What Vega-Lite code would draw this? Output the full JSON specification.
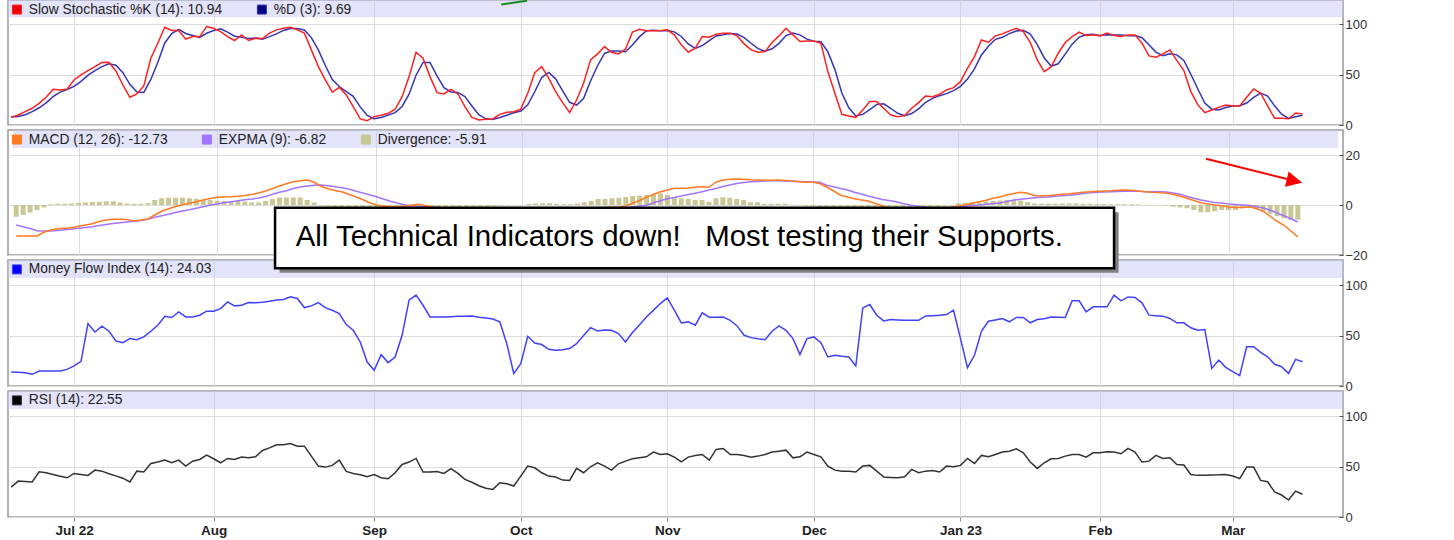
{
"$schema":"https://vega.github.io/schema/vega-lite/v6.json",
"padding":{"left":7,"top":-2,"right":0,"bottom":0},
"background":"white",
"spacing":5,
"bounds":"flush",
"config":{"font":"Liberation Sans","view":{"stroke":"#9a9a9a","strokeWidth":1.5},"axis":{"gridColor":"#dddddd","gridWidth":1}},
"resolve":{"scale":{"x":"independent","y":"independent","color":"independent"},"legend":{"color":"independent"}},
"datasets":{"ind":[
{"t":0,"date":"2022-06-17","pk":7.6,"pd":8.0,"macd":-12.4,"sig":-8.0,"div":-4.7,"mfi":13.9,"rsi":29.7},
{"t":1,"date":"2022-06-21","pk":9.9,"pd":8.5,"macd":-12.4,"sig":-8.7,"div":-4.0,"mfi":13.6,"rsi":35.6},
{"t":2,"date":"2022-06-22","pk":13.2,"pd":10.2,"macd":-12.4,"sig":-9.4,"div":-3.0,"mfi":13.2,"rsi":35.2},
{"t":3,"date":"2022-06-23","pk":16.6,"pd":13.2,"macd":-12.4,"sig":-10.3,"div":-2.0,"mfi":11.6,"rsi":34.7},
{"t":4,"date":"2022-06-24","pk":21.5,"pd":17.1,"macd":-10.9,"sig":-10.4,"div":-1.0,"mfi":14.9,"rsi":44.9},
{"t":5,"date":"2022-06-27","pk":27.5,"pd":21.9,"macd":-10.0,"sig":-10.4,"div":0.3,"mfi":14.9,"rsi":43.9},
{"t":6,"date":"2022-06-28","pk":35.4,"pd":28.1,"macd":-9.5,"sig":-10.2,"div":0.5,"mfi":14.9,"rsi":42.2},
{"t":7,"date":"2022-06-29","pk":34.8,"pd":32.6,"macd":-9.3,"sig":-9.9,"div":0.5,"mfi":14.9,"rsi":40.5},
{"t":8,"date":"2022-06-30","pk":35.4,"pd":35.2,"macd":-9.1,"sig":-9.6,"div":0.6,"mfi":16.5,"rsi":38.9},
{"t":9,"date":"2022-07-01","pk":44.7,"pd":38.3,"macd":-8.5,"sig":-9.3,"div":0.8,"mfi":20.0,"rsi":43.2},
{"t":10,"date":"2022-07-05","pk":49.7,"pd":43.3,"macd":-8.0,"sig":-9.0,"div":1.0,"mfi":24.5,"rsi":42.2},
{"t":11,"date":"2022-07-06","pk":54.0,"pd":49.5,"macd":-7.5,"sig":-8.7,"div":1.2,"mfi":61.9,"rsi":41.3},
{"t":12,"date":"2022-07-07","pk":57.9,"pd":53.9,"macd":-6.6,"sig":-8.2,"div":1.3,"mfi":53.6,"rsi":46.5},
{"t":13,"date":"2022-07-08","pk":61.9,"pd":57.9,"macd":-6.0,"sig":-7.8,"div":1.5,"mfi":59.3,"rsi":45.5},
{"t":14,"date":"2022-07-11","pk":62.3,"pd":60.7,"macd":-5.7,"sig":-7.4,"div":1.5,"mfi":54.3,"rsi":42.9},
{"t":15,"date":"2022-07-12","pk":53.6,"pd":59.3,"macd":-5.7,"sig":-7.1,"div":1.0,"mfi":44.7,"rsi":40.8},
{"t":16,"date":"2022-07-13","pk":39.7,"pd":51.9,"macd":-5.8,"sig":-6.8,"div":0.6,"mfi":43.0,"rsi":38.5},
{"t":17,"date":"2022-07-14","pk":27.5,"pd":40.3,"macd":-6.4,"sig":-6.5,"div":0.4,"mfi":47.0,"rsi":34.7},
{"t":18,"date":"2022-07-15","pk":30.8,"pd":32.7,"macd":-6.0,"sig":-6.2,"div":0.5,"mfi":46.0,"rsi":45.5},
{"t":19,"date":"2022-07-18","pk":38.7,"pd":32.3,"macd":-5.6,"sig":-5.7,"div":0.7,"mfi":48.7,"rsi":44.6},
{"t":20,"date":"2022-07-19","pk":66.2,"pd":45.2,"macd":-4.0,"sig":-4.9,"div":2.0,"mfi":54.3,"rsi":53.1},
{"t":21,"date":"2022-07-20","pk":81.1,"pd":62.0,"macd":-2.5,"sig":-4.3,"div":2.7,"mfi":60.3,"rsi":54.5},
{"t":22,"date":"2022-07-21","pk":97.0,"pd":81.4,"macd":-1.5,"sig":-3.7,"div":2.9,"mfi":69.2,"rsi":56.4},
{"t":23,"date":"2022-07-22","pk":93.7,"pd":90.6,"macd":-0.6,"sig":-3.0,"div":2.9,"mfi":67.9,"rsi":53.8},
{"t":24,"date":"2022-07-25","pk":93.7,"pd":94.8,"macd":0.1,"sig":-2.4,"div":2.9,"mfi":73.5,"rsi":56.4},
{"t":25,"date":"2022-07-26","pk":85.1,"pd":90.8,"macd":0.7,"sig":-1.9,"div":2.7,"mfi":68.5,"rsi":50.5},
{"t":26,"date":"2022-07-27","pk":87.7,"pd":88.8,"macd":1.3,"sig":-1.3,"div":2.5,"mfi":68.5,"rsi":55.4},
{"t":27,"date":"2022-07-28","pk":87.7,"pd":86.8,"macd":2.0,"sig":-0.7,"div":2.0,"mfi":70.2,"rsi":57.1},
{"t":28,"date":"2022-07-29","pk":97.7,"pd":91.0,"macd":2.6,"sig":-0.1,"div":2.0,"mfi":74.2,"rsi":61.4},
{"t":29,"date":"2022-08-01","pk":96.0,"pd":93.8,"macd":3.1,"sig":0.4,"div":1.7,"mfi":74.2,"rsi":57.8},
{"t":30,"date":"2022-08-02","pk":92.7,"pd":95.5,"macd":3.2,"sig":0.9,"div":1.6,"mfi":76.8,"rsi":53.8},
{"t":31,"date":"2022-08-03","pk":87.7,"pd":92.1,"macd":3.3,"sig":1.3,"div":1.6,"mfi":83.4,"rsi":58.1},
{"t":32,"date":"2022-08-04","pk":83.8,"pd":88.1,"macd":3.5,"sig":1.7,"div":1.6,"mfi":79.5,"rsi":57.1},
{"t":33,"date":"2022-08-05","pk":89.4,"pd":87.0,"macd":3.8,"sig":2.1,"div":1.4,"mfi":80.1,"rsi":59.4},
{"t":34,"date":"2022-08-08","pk":83.8,"pd":85.7,"macd":4.2,"sig":2.4,"div":1.0,"mfi":82.8,"rsi":58.7},
{"t":35,"date":"2022-08-09","pk":86.1,"pd":86.4,"macd":4.8,"sig":2.8,"div":1.0,"mfi":82.6,"rsi":59.7},
{"t":36,"date":"2022-08-10","pk":85.8,"pd":85.2,"macd":5.6,"sig":3.4,"div":1.6,"mfi":83.0,"rsi":66.0},
{"t":37,"date":"2022-08-11","pk":91.1,"pd":87.7,"macd":6.6,"sig":4.3,"div":2.4,"mfi":84.0,"rsi":68.6},
{"t":38,"date":"2022-08-12","pk":94.4,"pd":90.4,"macd":7.6,"sig":5.1,"div":3.0,"mfi":85.4,"rsi":71.6},
{"t":39,"date":"2022-08-15","pk":96.0,"pd":93.8,"macd":8.5,"sig":5.7,"div":3.0,"mfi":85.8,"rsi":71.6},
{"t":40,"date":"2022-08-16","pk":97.0,"pd":95.8,"macd":9.3,"sig":6.6,"div":3.0,"mfi":88.4,"rsi":72.9},
{"t":41,"date":"2022-08-17","pk":94.4,"pd":95.8,"macd":9.7,"sig":7.2,"div":3.0,"mfi":86.8,"rsi":70.3},
{"t":42,"date":"2022-08-18","pk":91.1,"pd":94.2,"macd":10.0,"sig":7.6,"div":2.0,"mfi":77.8,"rsi":70.3},
{"t":43,"date":"2022-08-19","pk":74.5,"pd":86.7,"macd":9.1,"sig":7.9,"div":1.0,"mfi":79.5,"rsi":60.4},
{"t":44,"date":"2022-08-22","pk":57.9,"pd":74.5,"macd":7.5,"sig":8.0,"div":-0.3,"mfi":82.8,"rsi":50.5},
{"t":45,"date":"2022-08-23","pk":44.7,"pd":59.0,"macd":6.5,"sig":7.7,"div":-0.6,"mfi":77.8,"rsi":49.5},
{"t":46,"date":"2022-08-24","pk":32.5,"pd":45.0,"macd":5.8,"sig":7.3,"div":-1.0,"mfi":75.2,"rsi":51.2},
{"t":47,"date":"2022-08-25","pk":37.4,"pd":38.2,"macd":5.3,"sig":6.9,"div":-1.3,"mfi":71.9,"rsi":56.4},
{"t":48,"date":"2022-08-26","pk":29.8,"pd":33.2,"macd":4.3,"sig":6.4,"div":-1.6,"mfi":60.9,"rsi":45.2},
{"t":49,"date":"2022-08-29","pk":18.2,"pd":28.5,"macd":3.3,"sig":5.6,"div":-1.9,"mfi":55.3,"rsi":43.2},
{"t":50,"date":"2022-08-30","pk":6.0,"pd":18.0,"macd":2.2,"sig":4.8,"div":-2.1,"mfi":43.7,"rsi":42.0},
{"t":51,"date":"2022-08-31","pk":4.3,"pd":9.5,"macd":0.9,"sig":4.1,"div":-2.3,"mfi":23.8,"rsi":39.9},
{"t":52,"date":"2022-09-01","pk":8.3,"pd":6.2,"macd":0.0,"sig":3.3,"div":-2.3,"mfi":15.6,"rsi":42.2},
{"t":53,"date":"2022-09-02","pk":9.6,"pd":7.4,"macd":-0.4,"sig":2.4,"div":-2.2,"mfi":31.1,"rsi":38.9},
{"t":54,"date":"2022-09-06","pk":11.6,"pd":9.8,"macd":-0.6,"sig":1.5,"div":-2.0,"mfi":23.2,"rsi":38.0},
{"t":55,"date":"2022-09-07","pk":15.6,"pd":12.3,"macd":-0.7,"sig":0.8,"div":-1.6,"mfi":28.8,"rsi":43.9},
{"t":56,"date":"2022-09-08","pk":28.1,"pd":18.4,"macd":-0.5,"sig":0.1,"div":-1.2,"mfi":50.3,"rsi":52.1},
{"t":57,"date":"2022-09-09","pk":48.0,"pd":30.6,"macd":-0.1,"sig":-0.3,"div":-0.8,"mfi":85.1,"rsi":54.5},
{"t":58,"date":"2022-09-12","pk":72.2,"pd":49.4,"macd":0.3,"sig":-0.5,"div":-0.5,"mfi":90.1,"rsi":58.1},
{"t":59,"date":"2022-09-13","pk":66.2,"pd":62.1,"macd":-0.2,"sig":-0.6,"div":-0.4,"mfi":80.1,"rsi":44.6},
{"t":60,"date":"2022-09-14","pk":48.0,"pd":62.1,"macd":-0.8,"sig":-0.8,"div":-0.6,"mfi":68.5,"rsi":44.6},
{"t":61,"date":"2022-09-15","pk":32.1,"pd":48.8,"macd":-1.5,"sig":-1.0,"div":-0.9,"mfi":68.5,"rsi":45.2},
{"t":62,"date":"2022-09-16","pk":30.8,"pd":37.0,"macd":-2.3,"sig":-1.3,"div":-1.1,"mfi":68.5,"rsi":43.2},
{"t":63,"date":"2022-09-19","pk":35.4,"pd":32.8,"macd":-3.0,"sig":-1.6,"div":-1.2,"mfi":68.8,"rsi":47.9},
{"t":64,"date":"2022-09-20","pk":30.8,"pd":32.3,"macd":-3.6,"sig":-2.0,"div":-1.2,"mfi":69.2,"rsi":43.2},
{"t":65,"date":"2022-09-21","pk":18.2,"pd":28.1,"macd":-4.2,"sig":-2.4,"div":-1.1,"mfi":69.3,"rsi":37.3},
{"t":66,"date":"2022-09-22","pk":7.6,"pd":18.9,"macd":-4.8,"sig":-2.8,"div":-1.0,"mfi":69.5,"rsi":34.5},
{"t":67,"date":"2022-09-23","pk":5.0,"pd":10.3,"macd":-5.3,"sig":-3.2,"div":-0.9,"mfi":68.2,"rsi":31.0},
{"t":68,"date":"2022-09-26","pk":5.6,"pd":6.1,"macd":-5.8,"sig":-3.6,"div":-0.8,"mfi":67.4,"rsi":28.5},
{"t":69,"date":"2022-09-27","pk":6.0,"pd":5.5,"macd":-6.0,"sig":-3.9,"div":-0.6,"mfi":66.5,"rsi":27.4},
{"t":70,"date":"2022-09-28","pk":10.6,"pd":7.4,"macd":-6.0,"sig":-4.2,"div":-0.4,"mfi":63.6,"rsi":34.0},
{"t":71,"date":"2022-09-29","pk":12.6,"pd":9.7,"macd":-5.8,"sig":-4.4,"div":-0.2,"mfi":42.0,"rsi":33.0},
{"t":72,"date":"2022-09-30","pk":13.2,"pd":12.1,"macd":-5.5,"sig":-4.6,"div":-0.1,"mfi":12.3,"rsi":30.7},
{"t":73,"date":"2022-10-03","pk":15.6,"pd":13.8,"macd":-5.2,"sig":-4.7,"div":0.1,"mfi":22.2,"rsi":40.5},
{"t":74,"date":"2022-10-04","pk":31.5,"pd":20.1,"macd":-4.6,"sig":-4.7,"div":0.4,"mfi":49.3,"rsi":50.5},
{"t":75,"date":"2022-10-05","pk":52.0,"pd":33.0,"macd":-3.8,"sig":-4.6,"div":0.6,"mfi":42.7,"rsi":48.8},
{"t":76,"date":"2022-10-06","pk":57.9,"pd":47.1,"macd":-3.2,"sig":-4.4,"div":0.7,"mfi":41.1,"rsi":43.9},
{"t":77,"date":"2022-10-07","pk":46.4,"pd":52.1,"macd":-3.0,"sig":-4.2,"div":0.7,"mfi":36.4,"rsi":40.6},
{"t":78,"date":"2022-10-10","pk":33.1,"pd":45.8,"macd":-3.0,"sig":-4.0,"div":0.5,"mfi":35.4,"rsi":39.6},
{"t":79,"date":"2022-10-11","pk":22.2,"pd":33.9,"macd":-3.1,"sig":-3.8,"div":0.3,"mfi":36.0,"rsi":36.6},
{"t":80,"date":"2022-10-12","pk":12.3,"pd":22.5,"macd":-3.2,"sig":-3.7,"div":0.3,"mfi":37.1,"rsi":36.3},
{"t":81,"date":"2022-10-13","pk":24.8,"pd":19.8,"macd":-2.9,"sig":-3.5,"div":0.6,"mfi":42.0,"rsi":48.2},
{"t":82,"date":"2022-10-14","pk":41.4,"pd":26.2,"macd":-2.4,"sig":-3.3,"div":1.1,"mfi":50.0,"rsi":43.9},
{"t":83,"date":"2022-10-17","pk":64.6,"pd":43.6,"macd":-1.8,"sig":-3.0,"div":1.6,"mfi":57.9,"rsi":49.8},
{"t":84,"date":"2022-10-18","pk":70.5,"pd":58.8,"macd":-1.4,"sig":-2.7,"div":2.4,"mfi":54.6,"rsi":53.8},
{"t":85,"date":"2022-10-19","pk":77.8,"pd":71.0,"macd":-1.0,"sig":-2.4,"div":2.4,"mfi":55.6,"rsi":50.5},
{"t":86,"date":"2022-10-20","pk":72.2,"pd":73.5,"macd":-0.9,"sig":-2.0,"div":2.7,"mfi":55.3,"rsi":46.5},
{"t":87,"date":"2022-10-21","pk":70.5,"pd":73.5,"macd":-0.8,"sig":-1.6,"div":2.9,"mfi":52.0,"rsi":52.8},
{"t":88,"date":"2022-10-24","pk":75.2,"pd":72.6,"macd":-0.4,"sig":-1.2,"div":3.2,"mfi":43.7,"rsi":55.4},
{"t":89,"date":"2022-10-25","pk":92.1,"pd":79.3,"macd":0.8,"sig":-0.8,"div":3.6,"mfi":53.0,"rsi":57.8},
{"t":90,"date":"2022-10-26","pk":95.0,"pd":87.4,"macd":1.8,"sig":-0.4,"div":3.7,"mfi":60.5,"rsi":58.7},
{"t":91,"date":"2022-10-27","pk":93.4,"pd":93.5,"macd":3.1,"sig":-0.1,"div":4.0,"mfi":68.5,"rsi":59.7},
{"t":92,"date":"2022-10-28","pk":93.4,"pd":93.9,"macd":4.3,"sig":0.9,"div":4.4,"mfi":75.0,"rsi":64.4},
{"t":93,"date":"2022-10-31","pk":93.4,"pd":93.4,"macd":5.3,"sig":1.7,"div":4.7,"mfi":81.8,"rsi":62.0},
{"t":94,"date":"2022-11-01","pk":94.4,"pd":93.7,"macd":6.0,"sig":2.5,"div":4.0,"mfi":87.4,"rsi":62.7},
{"t":95,"date":"2022-11-02","pk":89.4,"pd":92.4,"macd":6.7,"sig":3.0,"div":3.3,"mfi":75.2,"rsi":59.4},
{"t":96,"date":"2022-11-03","pk":79.5,"pd":87.8,"macd":6.7,"sig":3.6,"div":2.7,"mfi":62.6,"rsi":54.8},
{"t":97,"date":"2022-11-04","pk":72.2,"pd":80.4,"macd":6.8,"sig":4.2,"div":2.4,"mfi":63.6,"rsi":59.4},
{"t":98,"date":"2022-11-07","pk":76.2,"pd":76.0,"macd":7.1,"sig":4.7,"div":2.0,"mfi":60.3,"rsi":61.1},
{"t":99,"date":"2022-11-08","pk":87.7,"pd":78.7,"macd":7.3,"sig":5.3,"div":2.0,"mfi":72.5,"rsi":62.0},
{"t":100,"date":"2022-11-09","pk":87.1,"pd":83.7,"macd":7.1,"sig":6.0,"div":1.3,"mfi":68.2,"rsi":56.4},
{"t":101,"date":"2022-11-10","pk":90.1,"pd":88.3,"macd":9.1,"sig":6.6,"div":2.7,"mfi":68.3,"rsi":67.0},
{"t":102,"date":"2022-11-11","pk":91.1,"pd":89.4,"macd":10.0,"sig":7.4,"div":3.1,"mfi":68.5,"rsi":68.0},
{"t":103,"date":"2022-11-14","pk":91.1,"pd":90.8,"macd":10.3,"sig":8.0,"div":2.9,"mfi":65.2,"rsi":62.0},
{"t":104,"date":"2022-11-15","pk":88.4,"pd":90.2,"macd":10.4,"sig":8.6,"div":2.4,"mfi":59.6,"rsi":62.0},
{"t":105,"date":"2022-11-16","pk":80.5,"pd":86.7,"macd":10.3,"sig":9.0,"div":2.0,"mfi":50.3,"rsi":61.1},
{"t":106,"date":"2022-11-17","pk":74.5,"pd":81.1,"macd":10.1,"sig":9.3,"div":1.1,"mfi":48.0,"rsi":59.4},
{"t":107,"date":"2022-11-18","pk":72.2,"pd":75.7,"macd":10.0,"sig":9.4,"div":1.1,"mfi":46.8,"rsi":60.4},
{"t":108,"date":"2022-11-21","pk":72.8,"pd":73.2,"macd":9.9,"sig":9.6,"div":0.5,"mfi":46.0,"rsi":62.0},
{"t":109,"date":"2022-11-22","pk":81.8,"pd":75.6,"macd":9.9,"sig":9.7,"div":0.5,"mfi":54.3,"rsi":64.4},
{"t":110,"date":"2022-11-23","pk":88.4,"pd":81.0,"macd":10.0,"sig":9.7,"div":0.5,"mfi":59.6,"rsi":65.3},
{"t":111,"date":"2022-11-25","pk":96.0,"pd":88.7,"macd":9.8,"sig":9.6,"div":0.5,"mfi":55.3,"rsi":66.3},
{"t":112,"date":"2022-11-28","pk":89.4,"pd":91.3,"macd":9.6,"sig":9.5,"div":0.1,"mfi":47.0,"rsi":58.7},
{"t":113,"date":"2022-11-29","pk":82.8,"pd":89.4,"macd":9.3,"sig":9.4,"div":-0.2,"mfi":31.1,"rsi":59.7},
{"t":114,"date":"2022-11-30","pk":83.4,"pd":85.2,"macd":9.1,"sig":9.3,"div":-0.4,"mfi":47.0,"rsi":64.4},
{"t":115,"date":"2022-12-01","pk":83.4,"pd":83.2,"macd":9.1,"sig":9.2,"div":-0.6,"mfi":48.7,"rsi":62.0},
{"t":116,"date":"2022-12-02","pk":81.1,"pd":82.6,"macd":8.6,"sig":9.1,"div":-0.8,"mfi":43.0,"rsi":59.7},
{"t":117,"date":"2022-12-05","pk":53.0,"pd":72.5,"macd":7.2,"sig":7.9,"div":-1.2,"mfi":28.8,"rsi":50.5},
{"t":118,"date":"2022-12-06","pk":31.5,"pd":55.2,"macd":5.6,"sig":7.3,"div":-1.7,"mfi":30.5,"rsi":46.5},
{"t":119,"date":"2022-12-07","pk":10.6,"pd":31.7,"macd":3.9,"sig":6.6,"div":-2.2,"mfi":29.5,"rsi":45.5},
{"t":120,"date":"2022-12-08","pk":8.9,"pd":17.0,"macd":3.2,"sig":6.0,"div":-2.4,"mfi":28.8,"rsi":45.5},
{"t":121,"date":"2022-12-09","pk":7.6,"pd":9.0,"macd":2.5,"sig":5.1,"div":-2.4,"mfi":19.9,"rsi":44.6},
{"t":122,"date":"2022-12-12","pk":14.9,"pd":10.5,"macd":2.0,"sig":4.4,"div":-2.3,"mfi":77.5,"rsi":50.5},
{"t":123,"date":"2022-12-13","pk":23.2,"pd":15.2,"macd":1.6,"sig":3.6,"div":-2.0,"mfi":80.8,"rsi":51.2},
{"t":124,"date":"2022-12-14","pk":23.2,"pd":20.4,"macd":0.6,"sig":2.9,"div":-1.9,"mfi":70.2,"rsi":45.5},
{"t":125,"date":"2022-12-15","pk":16.6,"pd":21.0,"macd":-0.3,"sig":2.2,"div":-1.8,"mfi":64.6,"rsi":39.6},
{"t":126,"date":"2022-12-16","pk":9.9,"pd":16.6,"macd":-1.2,"sig":1.8,"div":-1.7,"mfi":65.9,"rsi":39.2},
{"t":127,"date":"2022-12-19","pk":8.3,"pd":11.6,"macd":-1.7,"sig":1.3,"div":-1.6,"mfi":65.5,"rsi":38.9},
{"t":128,"date":"2022-12-20","pk":9.3,"pd":9.2,"macd":-2.2,"sig":0.6,"div":-1.6,"mfi":65.2,"rsi":39.9},
{"t":129,"date":"2022-12-21","pk":16.6,"pd":11.4,"macd":-2.6,"sig":0.0,"div":-1.5,"mfi":65.2,"rsi":47.2},
{"t":130,"date":"2022-12-22","pk":22.2,"pd":16.0,"macd":-2.8,"sig":-0.4,"div":-1.4,"mfi":65.2,"rsi":43.9},
{"t":131,"date":"2022-12-23","pk":28.8,"pd":22.5,"macd":-2.8,"sig":-0.8,"div":-1.2,"mfi":69.5,"rsi":45.5},
{"t":132,"date":"2022-12-27","pk":28.1,"pd":26.4,"macd":-2.5,"sig":-1.0,"div":-1.0,"mfi":69.8,"rsi":46.2},
{"t":133,"date":"2022-12-28","pk":30.5,"pd":29.1,"macd":-2.0,"sig":-1.1,"div":-0.8,"mfi":70.2,"rsi":44.6},
{"t":134,"date":"2022-12-29","pk":34.8,"pd":31.1,"macd":-1.5,"sig":-1.0,"div":-0.5,"mfi":70.9,"rsi":50.5},
{"t":135,"date":"2022-12-30","pk":37.1,"pd":34.1,"macd":-0.9,"sig":-0.9,"div":-0.2,"mfi":75.2,"rsi":49.8},
{"t":136,"date":"2023-01-03","pk":43.0,"pd":38.3,"macd":-0.4,"sig":-0.7,"div":0.7,"mfi":47.0,"rsi":51.2},
{"t":137,"date":"2023-01-04","pk":56.3,"pd":45.5,"macd":0.0,"sig":-0.5,"div":0.9,"mfi":18.2,"rsi":58.1},
{"t":138,"date":"2023-01-05","pk":67.9,"pd":55.7,"macd":0.7,"sig":-0.2,"div":1.1,"mfi":30.5,"rsi":53.1},
{"t":139,"date":"2023-01-06","pk":84.4,"pd":69.5,"macd":1.3,"sig":0.0,"div":1.3,"mfi":54.3,"rsi":61.1},
{"t":140,"date":"2023-01-09","pk":82.1,"pd":78.1,"macd":1.9,"sig":0.3,"div":1.5,"mfi":64.2,"rsi":59.7},
{"t":141,"date":"2023-01-10","pk":88.4,"pd":85.0,"macd":2.7,"sig":0.6,"div":1.6,"mfi":65.5,"rsi":62.0},
{"t":142,"date":"2023-01-11","pk":90.4,"pd":87.0,"macd":3.2,"sig":0.8,"div":1.8,"mfi":66.9,"rsi":64.4},
{"t":143,"date":"2023-01-12","pk":93.4,"pd":90.7,"macd":4.0,"sig":1.4,"div":2.0,"mfi":63.7,"rsi":65.3},
{"t":144,"date":"2023-01-13","pk":96.0,"pd":93.3,"macd":4.6,"sig":2.0,"div":2.0,"mfi":68.0,"rsi":67.7},
{"t":145,"date":"2023-01-17","pk":92.7,"pd":94.0,"macd":5.1,"sig":2.3,"div":1.8,"mfi":68.0,"rsi":63.7},
{"t":146,"date":"2023-01-18","pk":81.8,"pd":90.2,"macd":4.7,"sig":2.6,"div":1.2,"mfi":62.7,"rsi":54.5},
{"t":147,"date":"2023-01-19","pk":64.6,"pd":79.7,"macd":3.7,"sig":2.9,"div":0.6,"mfi":66.0,"rsi":48.2},
{"t":148,"date":"2023-01-20","pk":53.0,"pd":66.5,"macd":3.7,"sig":3.1,"div":0.5,"mfi":66.8,"rsi":53.8},
{"t":149,"date":"2023-01-23","pk":57.9,"pd":58.5,"macd":3.7,"sig":3.2,"div":0.5,"mfi":68.4,"rsi":57.8},
{"t":150,"date":"2023-01-24","pk":71.2,"pd":60.7,"macd":4.0,"sig":3.5,"div":0.5,"mfi":68.2,"rsi":58.1},
{"t":151,"date":"2023-01-25","pk":81.8,"pd":70.3,"macd":4.3,"sig":3.7,"div":0.6,"mfi":68.0,"rsi":60.4},
{"t":152,"date":"2023-01-26","pk":87.7,"pd":80.2,"macd":4.5,"sig":3.9,"div":0.6,"mfi":84.5,"rsi":62.0},
{"t":153,"date":"2023-01-27","pk":92.1,"pd":87.2,"macd":4.8,"sig":4.2,"div":0.6,"mfi":84.5,"rsi":62.0},
{"t":154,"date":"2023-01-30","pk":88.7,"pd":89.5,"macd":5.1,"sig":4.6,"div":0.5,"mfi":73.6,"rsi":59.4},
{"t":155,"date":"2023-01-31","pk":89.4,"pd":90.1,"macd":5.3,"sig":4.9,"div":0.5,"mfi":78.5,"rsi":63.7},
{"t":156,"date":"2023-02-01","pk":88.4,"pd":88.8,"macd":5.5,"sig":5.1,"div":0.4,"mfi":78.5,"rsi":63.7},
{"t":157,"date":"2023-02-02","pk":91.1,"pd":89.6,"macd":5.6,"sig":5.2,"div":0.4,"mfi":78.5,"rsi":64.7},
{"t":158,"date":"2023-02-03","pk":88.7,"pd":89.4,"macd":5.7,"sig":5.3,"div":0.3,"mfi":90.1,"rsi":64.4},
{"t":159,"date":"2023-02-06","pk":87.7,"pd":89.2,"macd":5.9,"sig":5.4,"div":0.3,"mfi":84.5,"rsi":62.7},
{"t":160,"date":"2023-02-07","pk":89.4,"pd":88.6,"macd":6.0,"sig":5.5,"div":0.3,"mfi":88.4,"rsi":68.0},
{"t":161,"date":"2023-02-08","pk":89.4,"pd":88.8,"macd":5.9,"sig":5.6,"div":0.3,"mfi":87.8,"rsi":64.4},
{"t":162,"date":"2023-02-09","pk":81.1,"pd":86.6,"macd":5.6,"sig":5.5,"div":0.2,"mfi":82.5,"rsi":54.5},
{"t":163,"date":"2023-02-10","pk":68.5,"pd":79.7,"macd":5.3,"sig":5.3,"div":0.1,"mfi":70.3,"rsi":55.4},
{"t":164,"date":"2023-02-13","pk":67.2,"pd":72.3,"macd":5.1,"sig":5.3,"div":0.1,"mfi":69.8,"rsi":61.1},
{"t":165,"date":"2023-02-14","pk":70.5,"pd":68.7,"macd":5.0,"sig":5.3,"div":-0.1,"mfi":69.3,"rsi":58.1},
{"t":166,"date":"2023-02-15","pk":74.5,"pd":70.7,"macd":4.7,"sig":5.2,"div":-0.3,"mfi":67.0,"rsi":58.7},
{"t":167,"date":"2023-02-16","pk":63.9,"pd":69.6,"macd":4.3,"sig":4.8,"div":-0.7,"mfi":62.7,"rsi":52.1},
{"t":168,"date":"2023-02-17","pk":54.0,"pd":64.1,"macd":3.5,"sig":4.3,"div":-1.0,"mfi":62.7,"rsi":51.5},
{"t":169,"date":"2023-02-21","pk":33.1,"pd":50.3,"macd":2.7,"sig":3.4,"div":-1.3,"mfi":57.8,"rsi":42.2},
{"t":170,"date":"2023-02-22","pk":19.9,"pd":35.7,"macd":1.8,"sig":2.7,"div":-2.0,"mfi":55.4,"rsi":41.3},
{"t":171,"date":"2023-02-23","pk":12.3,"pd":21.8,"macd":0.9,"sig":2.0,"div":-2.9,"mfi":56.1,"rsi":41.5},
{"t":172,"date":"2023-02-24","pk":14.9,"pd":15.7,"macd":0.4,"sig":1.5,"div":-2.9,"mfi":17.5,"rsi":41.6},
{"t":173,"date":"2023-02-27","pk":17.5,"pd":14.9,"macd":0.0,"sig":1.0,"div":-2.5,"mfi":25.7,"rsi":41.8},
{"t":174,"date":"2023-02-28","pk":19.9,"pd":17.4,"macd":-0.3,"sig":0.8,"div":-2.0,"mfi":18.5,"rsi":42.2},
{"t":175,"date":"2023-03-01","pk":18.9,"pd":18.8,"macd":-0.8,"sig":0.4,"div":-2.0,"mfi":14.2,"rsi":40.6},
{"t":176,"date":"2023-03-02","pk":18.9,"pd":19.2,"macd":-1.0,"sig":0.2,"div":-2.0,"mfi":10.2,"rsi":38.0},
{"t":177,"date":"2023-03-03","pk":27.5,"pd":21.8,"macd":-1.0,"sig":0.0,"div":-1.3,"mfi":38.9,"rsi":49.5},
{"t":178,"date":"2023-03-06","pk":35.8,"pd":27.4,"macd":-0.7,"sig":-0.2,"div":-1.1,"mfi":38.9,"rsi":49.5},
{"t":179,"date":"2023-03-07","pk":31.5,"pd":31.6,"macd":-1.4,"sig":-0.6,"div":-1.6,"mfi":33.3,"rsi":36.3},
{"t":180,"date":"2023-03-08","pk":18.9,"pd":28.7,"macd":-2.5,"sig":-1.2,"div":-2.5,"mfi":29.0,"rsi":35.0},
{"t":181,"date":"2023-03-09","pk":6.6,"pd":19.0,"macd":-4.5,"sig":-2.0,"div":-3.5,"mfi":21.5,"rsi":24.8},
{"t":182,"date":"2023-03-10","pk":6.6,"pd":10.7,"macd":-6.5,"sig":-3.2,"div":-4.5,"mfi":19.1,"rsi":21.8},
{"t":183,"date":"2023-03-13","pk":6.2,"pd":6.5,"macd":-8.1,"sig":-4.3,"div":-5.3,"mfi":12.5,"rsi":16.8},
{"t":184,"date":"2023-03-14","pk":11.9,"pd":8.2,"macd":-10.4,"sig":-5.5,"div":-6.0,"mfi":26.4,"rsi":25.7},
{"t":185,"date":"2023-03-15","pk":10.94,"pd":9.69,"macd":-12.73,"sig":-6.82,"div":-5.91,"mfi":24.03,"rsi":22.55}
]},
"vconcat":[
{
"width":1335,"height":125,
"layer":[
{"data":{"values":[{}]},"mark":{"type":"rect","fill":"#c8c8f4","opacity":0.5},
 "encoding":{
  "x":{"datum":-0.46,"type":"quantitative","title":null,"scale":{"domain":[-0.46,190.8],"nice":false,"zero":false},"axis":{"values":[9,29,52,73,94,115,136,156,175],"grid":true,"labels":false,"ticks":false,"domain":false,"title":null}},
  "x2":{"datum":190.8},
  "y":{"datum":107,"type":"quantitative","title":null,"scale":{"domain":[0,124],"nice":false,"zero":false},"axis":{"orient":"right","values":[0,50,100],"grid":true,"domain":false,"tickSize":-4,"tickColor":"#555","labelPadding":6,"labelFontSize":13,"labelColor":"#333","labelFont":"Liberation Sans","title":null}},
  "y2":{"datum":124}}},
{"data":{"name":"ind"},"mark":{"type":"line","strokeWidth":1.5},
 "encoding":{
  "x":{"field":"t","type":"quantitative","title":null},
  "y":{"field":"pd","type":"quantitative","title":null},
  "color":{"datum":"pd","type":"nominal","scale":{"domain":["pk","pd"],"range":["#ff2020","#3535b5"]},
   "legend":{"orient":"none","legendX":2,"legendY":2.5,"direction":"horizontal","title":null,"symbolType":"square","symbolSize":81,"labelFontSize":13.8,"labelFont":"Liberation Sans","labelColor":"#222","labelOffset":5,"columnPadding":32,"labelLimit":400,
    "labelExpr":"datum.value == 'pk' ? 'Slow Stochastic %K (14): 10.94' : '%D (3): 9.69'",
    "encode":{"symbols":{"update":{"fill":{"signal":"datum.value == 'pk' ? '#ee0000' : '#000080'"},"fillOpacity":{"value":1},"opacity":{"value":1},"stroke":{"value":"#111"},"strokeWidth":{"value":1}}}}}}}},
{"data":{"name":"ind"},"mark":{"type":"line","strokeWidth":1.5},
 "encoding":{
  "x":{"field":"t","type":"quantitative","title":null},
  "y":{"field":"pk","type":"quantitative","title":null},
  "color":{"datum":"pk","type":"nominal"}}},
{"data":{"values":[{}]},"mark":{"type":"rule","color":"#1a8c1a","strokeWidth":2},
 "encoding":{"x":{"datum":70.2,"type":"quantitative"},"x2":{"datum":73.9},"y":{"datum":119.5,"type":"quantitative"},"y2":{"datum":123.3}}}
]},
{
"width":1335,"height":125,
"layer":[
{"data":{"values":[{}]},"mark":{"type":"rect","fill":"#c8c8f4","opacity":0.5},
 "encoding":{
  "x":{"datum":-0.46,"type":"quantitative","title":null,"scale":{"domain":[-0.46,190.8],"nice":false,"zero":false},"axis":{"values":[9,29,52,73,94,115,136,156,175],"grid":true,"labels":false,"ticks":false,"domain":false,"title":null}},
  "x2":{"datum":190.8},
  "y":{"datum":22.8,"type":"quantitative","title":null,"scale":{"domain":[-20,30],"nice":false,"zero":false},"axis":{"orient":"right","values":[-20,-10,0,10,20],"grid":true,"domain":false,"tickSize":-4,"tickColor":"#555","labelPadding":6,"labelFontSize":13,"labelColor":"#333","labelFont":"Liberation Sans","title":null}},
  "y2":{"datum":30}}},
{"data":{"name":"ind"},"mark":{"type":"bar","size":5},
 "encoding":{
  "x":{"field":"t","type":"quantitative","title":null},
  "y":{"field":"div","type":"quantitative","title":null},
  "color":{"datum":"div","type":"nominal","scale":{"domain":["macd","exp","div"],"range":["#ff7a22","#a274ff","#c8c896"]},
   "legend":{"orient":"none","legendX":2,"legendY":2.5,"direction":"horizontal","title":null,"symbolType":"square","symbolSize":81,"labelFontSize":13.8,"labelFont":"Liberation Sans","labelColor":"#222","labelOffset":5,"columnPadding":32,"labelLimit":400,
    "labelExpr":"datum.value == 'macd' ? 'MACD (12, 26): -12.73' : datum.value == 'exp' ? 'EXPMA (9): -6.82' : 'Divergence: -5.91'",
    "encode":{"symbols":{"update":{"fill":{"signal":"datum.value == 'macd' ? '#ff6a00' : datum.value == 'exp' ? '#9966ff' : '#cccc99'"},"fillOpacity":{"value":1},"opacity":{"value":1},"stroke":{"value":"#111"},"strokeWidth":{"value":1}}}}}}}},
{"data":{"name":"ind"},"mark":{"type":"line","strokeWidth":1.5},
 "encoding":{
  "x":{"field":"t","type":"quantitative","title":null},
  "y":{"field":"sig","type":"quantitative","title":null},
  "color":{"datum":"exp","type":"nominal"}}},
{"data":{"name":"ind"},"mark":{"type":"line","strokeWidth":1.5},
 "encoding":{
  "x":{"field":"t","type":"quantitative","title":null},
  "y":{"field":"macd","type":"quantitative","title":null},
  "color":{"datum":"macd","type":"nominal"}}},
{"data":{"values":[{}]},"mark":{"type":"rule","color":"#ff0000","strokeWidth":2},
 "encoding":{"x":{"datum":171.75,"type":"quantitative"},"x2":{"datum":184.3},"y":{"datum":18.5,"type":"quantitative"},"y2":{"datum":9.8}}},
{"data":{"values":[{}]},"mark":{"type":"point","shape":"M1,0L-1,-1L-1,1Z","filled":true,"color":"#ff0000","opacity":1,"size":250,"angle":13},
 "encoding":{"x":{"datum":184.52,"type":"quantitative"},"y":{"datum":9.64,"type":"quantitative"}}}
]},
{
"width":1335,"height":126,
"layer":[
{"data":{"values":[{}]},"mark":{"type":"rect","fill":"#c8c8f4","opacity":0.5},
 "encoding":{
  "x":{"datum":-0.46,"type":"quantitative","title":null,"scale":{"domain":[-0.46,190.8],"nice":false,"zero":false},"axis":{"values":[9,29,52,73,94,115,136,156,175],"grid":true,"labels":false,"ticks":false,"domain":false,"title":null}},
  "x2":{"datum":190.8},
  "y":{"datum":107.1,"type":"quantitative","title":null,"scale":{"domain":[0,125],"nice":false,"zero":false},"axis":{"orient":"right","values":[0,50,100],"grid":true,"domain":false,"tickSize":-4,"tickColor":"#555","labelPadding":6,"labelFontSize":13,"labelColor":"#333","labelFont":"Liberation Sans","title":null}},
  "y2":{"datum":125}}},
{"data":{"name":"ind"},"mark":{"type":"line","strokeWidth":1.5},
 "encoding":{
  "x":{"field":"t","type":"quantitative","title":null},
  "y":{"field":"mfi","type":"quantitative","title":null},
  "color":{"datum":"mfi","type":"nominal","scale":{"domain":["mfi"],"range":["#4040ff"]},
   "legend":{"orient":"none","legendX":2,"legendY":2.5,"direction":"horizontal","title":null,"symbolType":"square","symbolSize":81,"labelFontSize":13.8,"labelFont":"Liberation Sans","labelColor":"#222","labelOffset":5,"labelLimit":400,
    "labelExpr":"'Money Flow Index (14): 24.03'",
    "encode":{"symbols":{"update":{"fill":{"value":"#0000ff"},"fillOpacity":{"value":1},"opacity":{"value":1},"stroke":{"value":"#111"},"strokeWidth":{"value":1}}}}}}}},
{"data":{"values":[{}]},"mark":{"type":"rect","fill":"#808080"},
 "encoding":{"x":{"datum":38.45,"type":"quantitative"},"x2":{"datum":158.65},"y":{"datum":172.4,"type":"quantitative"},"y2":{"datum":112.4}}},
{"data":{"values":[{}]},"mark":{"type":"rect","fill":"#ffffff","stroke":"#000000","strokeWidth":2.5},
 "encoding":{"x":{"datum":37.8,"type":"quantitative"},"x2":{"datum":158.0},"y":{"datum":176.9,"type":"quantitative"},"y2":{"datum":116.9}}},
{"data":{"values":[{}]},"mark":{"type":"text","text":"All Technical Indicators down!\u00a0\u00a0 Most testing their Supports.","font":"Liberation Sans","fontSize":29.4,"color":"#000000","align":"left","baseline":"alphabetic"},
 "encoding":{"x":{"datum":40.75,"type":"quantitative"},"y":{"datum":139.2,"type":"quantitative"}}}
]},
{
"width":1335,"height":126,
"layer":[
{"data":{"values":[{}]},"mark":{"type":"rect","fill":"#c8c8f4","opacity":0.5},
 "encoding":{
  "x":{"datum":-0.46,"type":"quantitative","title":null,"scale":{"domain":[-0.46,190.8],"nice":false,"zero":false},"axis":{"values":[9,29,52,73,94,115,136,156,175],"grid":true,"domain":false,"ticks":true,"tickSize":4,"tickColor":"#888","labelFontSize":13.5,"labelFontWeight":"bold","labelColor":"#222","labelFont":"Liberation Sans","labelPadding":2,"title":null,
   "labelExpr":"['Jul 22','Aug','Sep','Oct','Nov','Dec','Jan 23','Feb','Mar'][indexof([9,29,52,73,94,115,136,156,175], datum.value)]"}},
  "x2":{"datum":190.8},
  "y":{"datum":107.1,"type":"quantitative","title":null,"scale":{"domain":[0,125],"nice":false,"zero":false},"axis":{"orient":"right","values":[0,50,100],"grid":true,"domain":false,"tickSize":-4,"tickColor":"#555","labelPadding":6,"labelFontSize":13,"labelColor":"#333","labelFont":"Liberation Sans","title":null}},
  "y2":{"datum":125}}},
{"data":{"name":"ind"},"mark":{"type":"line","strokeWidth":1.5},
 "encoding":{
  "x":{"field":"t","type":"quantitative","title":null},
  "y":{"field":"rsi","type":"quantitative","title":null},
  "color":{"datum":"rsi","type":"nominal","scale":{"domain":["rsi"],"range":["#333333"]},
   "legend":{"orient":"none","legendX":2,"legendY":2.5,"direction":"horizontal","title":null,"symbolType":"square","symbolSize":81,"labelFontSize":13.8,"labelFont":"Liberation Sans","labelColor":"#222","labelOffset":5,"labelLimit":400,
    "labelExpr":"'RSI (14): 22.55'",
    "encode":{"symbols":{"update":{"fill":{"value":"#000000"},"fillOpacity":{"value":1},"opacity":{"value":1},"stroke":{"value":"#111"},"strokeWidth":{"value":1}}}}}}}}
]}
]
}
